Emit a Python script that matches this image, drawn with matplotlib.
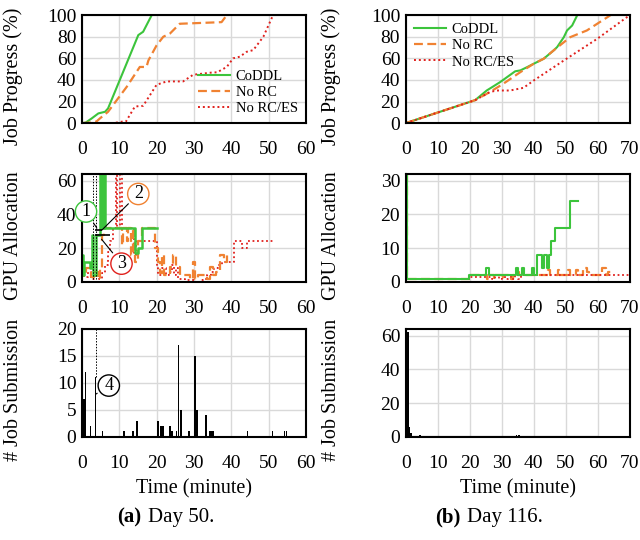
# =====================================================
# CoDDL job progress / GPU allocation / submissions
# =====================================================

import numpy as np
import matplotlib
matplotlib.use("Agg")
import matplotlib.pyplot as plt

plt.rcParams['font.family'] = ['Liberation Serif', 'DejaVu Serif']

# =====================================================
# DATA - DAY 50
# =====================================================

coddl_t_a = [0, 1.0, 2.6, 4.4, 6.2, 7.0, 15.1, 16.4, 18.7]
coddl_p_a = [0, 0.5, 4.3, 9, 10.5, 13.6, 81.5, 84.6, 100]

norc_t_a = [0, 2.0, 3.9, 4.8, 7.0, 12.0, 15.5, 17.3, 17.8, 20.0, 21.8, 23.6, 26.2, 37.4, 38.8]
norc_p_a = [0, 0.5, 1.5, 4.3, 10.5, 33.6, 52, 52, 58, 72, 80, 83, 92, 93.5, 100]

noes_t_a = [0, 8.4, 11.0, 11.8, 14.2, 16.4, 20.0, 22.7, 27.1, 29.8, 35.2, 36.2,
            38.8, 40.5, 42.3, 44.1, 45.9, 48.6, 51.2]
noes_p_a = [0, 0, 1.5, 1.5, 15.4, 16, 35.5, 38.6, 38.6, 44.8, 47, 47,
            52, 60, 61.5, 66, 67.6, 80, 100]

gpu_coddl_t_a = [0, 0.3, 0.6, 1.8, 2.2, 2.6, 3.0, 3.7, 4.8, 5.3, 5.9, 6.3,
                 14.2, 15.0, 16.0, 20.0]
gpu_coddl_a = [16, 4, 12, 12, 8, 28, 4, 28, 66, 32, 66, 32,
               17, 20, 32, 32]

gpu_norc_t_a = [0, 0.3, 1.0, 2.4, 3.2, 4.2, 4.8, 5.3, 6.0, 10.7, 11.1, 12.0, 12.4,
                13.2, 13.8, 14.3, 15.0, 16.0, 19.6, 20.5, 20.9, 21.5, 22.0, 23.5,
                24.4, 25.3, 26.3, 29.0, 29.8, 30.3, 31.0, 33.4, 34.3, 35.2, 36.0,
                37.0, 38.0, 38.8, 39.3]
gpu_norc_a = [8, 4, 8, 3, 6, 2, 8, 28, 32, 22, 32, 24, 32,
              16, 32, 12, 24, 32, 20, 12, 5, 16, 4, 9,
              16, 9, 4, 2, 12, 2, 4, 2, 9, 4, 6,
              16, 12, 16, 16]

gpu_noes_t_a = [0, 0.5, 1.5, 2.5, 3.5, 4.5, 5.5, 6.2, 7.0, 7.6, 8.2, 9.0, 9.4,
                10.3, 10.7, 14.0, 14.6, 20.0, 20.5, 21.5, 22.5, 23.2, 24.0, 24.6,
                25.2, 25.8, 27.5, 30.0, 31.5, 32.5, 33.5, 34.5, 35.5, 36.5, 37.5,
                40.0, 40.8, 42.8, 44.3, 51.7]
gpu_noes_a = [8, 3, 6, 2, 4, 2, 5, 10, 18, 24, 32, 66, 32,
              66, 32, 16, 24, 8, 4, 8, 4, 6, 10, 4,
              8, 2, 1, 0, 1, 2, 4, 6, 8, 10, 12,
              12, 24, 20, 24, 24]

sub_t_a = [0.2, 0.6, 1.0, 2.3, 3.7, 5.5, 11.3, 13.7, 14.8, 20.4, 21.0, 21.5, 21.9,
           23.6, 24.1, 25.4, 25.9, 26.5, 28.7, 30.3, 30.8, 33.2, 34.3, 34.8, 35.2,
           44.3, 51.0, 54.2, 54.8]
sub_n_a = [7, 7, 12, 2, 11, 1, 1, 1, 3, 3, 2, 2, 2,
           2, 1, 1, 17, 5, 1, 15, 5, 4, 1, 1, 1,
           1, 1, 1, 1]

# =====================================================
# DATA - DAY 116
# =====================================================

coddl_t_b = [0, 21.7, 25.3, 29.5, 34.2, 35.8, 37.9, 40, 43.1, 46.2, 47.3, 49.4, 50.4, 52, 53.6]
coddl_p_b = [0, 21.3, 30.2, 38, 48, 48.8, 51.8, 55, 59.6, 67.3, 70.4, 79.6, 85.8, 90.4, 100]

norc_t_b = [0, 21.7, 26.3, 30.5, 35.8, 40, 43.1, 46.2, 51.4, 56.6, 64]
norc_p_b = [0, 21.3, 28.8, 36.5, 47.2, 55, 59.6, 67.3, 79.6, 85.8, 100]

noes_t_b = [0, 21.7, 26.3, 28.4, 32.6, 36.8, 40, 49.4, 59.8, 70]
noes_p_b = [0, 21.3, 28.8, 30.2, 30.2, 32.7, 39.5, 58, 78, 100]

gpu_coddl_t_b = [0, 0.4, 19.8, 25.1, 26.0, 34.3, 35.0, 36.3, 37.0, 39.5, 40.2,
                 40.9, 42.6, 43.1, 44.2, 44.7, 45.4, 46.5, 51.3, 53.8]
gpu_coddl_b = [32, 1, 2, 4, 2, 4, 2, 4, 2, 4, 2,
               8, 4, 8, 4, 8, 12, 16, 24, 24]

gpu_norc_t_b = [0, 0.4, 20, 25.5, 26, 27.5, 28, 30, 30.5, 33, 33.5, 35, 35.5,
                44.5, 45, 47.5, 48, 50.7, 51.2, 53.3, 53.8, 55.5, 56.5, 57.2,
                61.3, 62.5, 63.2, 64]
gpu_norc_b = [32, 1, 2, 1, 2, 1, 2, 1, 2, 1, 2, 3, 2,
              3.5, 2, 3.5, 2, 3.5, 2, 3.5, 2, 4, 3, 2,
              4, 2, 3, 3]

gpu_noes_t_b = [0, 0.5, 20, 27, 28, 29, 30, 31, 32, 33, 34, 35, 36, 70]
gpu_noes_b = [32, 1, 1.5, 1, 2, 1, 2, 1, 2, 1, 2, 1, 2, 2]

sub_t_b = [0.2, 0.7, 1.2, 1.6, 4.4, 14.4, 24.3, 31.7, 34.6, 35.4, 36.8, 44.1, 54.5]
sub_n_b = [3, 62, 6, 2, 1, 0.5, 0.5, 0.5, 1, 1, 0.5, 0.5, 0.5]

# =====================================================
# STYLE
# =====================================================

GREEN = "#3CC43C"
ORANGE = "#F08232"
RED = "#E0201C"
GRID = "#D9D9D9"
FS = 14
LFS = 14.5

fig = plt.figure(figsize=(6.4, 5.4), dpi=100)

left_x, right_x = 0.128, 0.634
w = 0.35
rows = [0.772, 0.478, 0.191]
h = 0.2


def style_axis(ax, xmax, ymax, yticks):
    ax.set_xlim(0, xmax)
    ax.set_ylim(0, ymax)
    ax.set_xticks(np.arange(0, xmax + 1, 10))
    ax.set_yticks(yticks)
    ax.grid(True, color=GRID, linewidth=1)
    ax.set_axisbelow(True)
    ax.tick_params(length=0, labelsize=FS)
    ax.tick_params(axis='x', pad=13)
    ax.tick_params(axis='y', pad=4)
    for s in ax.spines.values():
        s.set_linewidth(1.5)
        s.set_color("black")


def progress(ax, data, xmax, loc):
    ct, cp, nt, np_, et, ep = data
    ax.plot(ct, cp, color=GREEN, lw=1.5, label="CoDDL")
    ax.plot(nt, np_, color=ORANGE, lw=1.6, ls=(0, (4, 2)), label="No RC")
    ax.plot(et, ep, color=RED, lw=1.4, ls=(0, (1, 1.5)), label="No RC/ES")
    style_axis(ax, xmax, 100, [0, 20, 40, 60, 80, 100])
    ax.set_ylabel("Job Progress (%)", fontsize=LFS)
    ax.legend(loc=loc, frameon=False, fontsize=10.5, handlelength=2.2,
              borderaxespad=0.15, labelspacing=0.2, handletextpad=0.4)


# =====================================================
# JOB PROGRESS
# =====================================================

ax1 = fig.add_axes([left_x, rows[0], w, h])
progress(ax1, [coddl_t_a, coddl_p_a, norc_t_a, norc_p_a, noes_t_a, noes_p_a], 60,
         "lower right")

ax2 = fig.add_axes([right_x, rows[0], w, h])
progress(ax2, [coddl_t_b, coddl_p_b, norc_t_b, norc_p_b, noes_t_b, noes_p_b], 70,
         "upper left")

# =====================================================
# GPU ALLOCATION
# =====================================================

ax3 = fig.add_axes([left_x, rows[1], w, h])
ax3.step(gpu_noes_t_a, gpu_noes_a, where='post', color=RED, lw=1.3, ls=(0, (1, 1.5)))
ax3.step(gpu_norc_t_a, gpu_norc_a, where='post', color=ORANGE, lw=1.6, ls=(0, (4, 2)))
ax3.step(gpu_coddl_t_a, gpu_coddl_a, where='post', color=GREEN, lw=1.8)
style_axis(ax3, 60, 64, [0, 20, 40, 60])
ax3.set_ylabel("GPU Allocation", fontsize=LFS)

ax3.axvline(3.0, color="black", lw=0.7, ls=(0, (1.5, 1.5)))
ax3.axvline(3.8, color="black", lw=0.7, ls=(0, (1.5, 1.5)))
ax3.hlines([30.5, 27.5], [3.5, 3.5], [5.3, 7.5], color="black", lw=1.2)

circ = dict(boxstyle="circle,pad=0.12", fc="white", lw=1)
ax3.annotate("1", xy=(4.4, 30.5), xytext=(1.1, 41.7), fontsize=13,
             ha="center", va="center",
             bbox=dict(circ, ec=GREEN),
             arrowprops=dict(arrowstyle="-", color="black", lw=0.8))
ax3.annotate("2", xy=(4.8, 29.5), xytext=(15.1, 52.1), fontsize=13,
             ha="center", va="center",
             bbox=dict(circ, ec=ORANGE),
             arrowprops=dict(arrowstyle="-", color="black", lw=0.8))
ax3.annotate("3", xy=(4.8, 26.5), xytext=(10.6, 10.8), fontsize=13,
             ha="center", va="center",
             bbox=dict(circ, ec=RED),
             arrowprops=dict(arrowstyle="-", color="black", lw=0.8))

ax4 = fig.add_axes([right_x, rows[1], w, h])
ax4.step(gpu_norc_t_b, gpu_norc_b, where='post', color=ORANGE, lw=1.6, ls=(0, (4, 2)))
ax4.step(gpu_noes_t_b, gpu_noes_b, where='post', color=RED, lw=1.3, ls=(0, (1, 1.5)))
ax4.step(gpu_coddl_t_b, gpu_coddl_b, where='post', color=GREEN, lw=1.5)
style_axis(ax4, 70, 32, [0, 10, 20, 30])
ax4.set_ylabel("GPU Allocation", fontsize=LFS)

# =====================================================
# JOB SUBMISSION
# =====================================================

ax5 = fig.add_axes([left_x, rows[2], w, h])
ax5.bar(sub_t_a, sub_n_a, width=0.4, color="black")
style_axis(ax5, 60, 20, [0, 5, 10, 15, 20])
ax5.set_ylabel("# Job Submission", fontsize=LFS)
ax5.set_xlabel("Time (minute)", fontsize=LFS, labelpad=5)
ax5.vlines(3.7, 11, 20, color="black", lw=0.7, linestyles=(0, (1.5, 1.5)))
ax5.annotate("4", xy=(3.7, 7.9), xytext=(7.2, 9.5), fontsize=13,
             ha="center", va="center",
             bbox=dict(circ, ec="black"),
             arrowprops=dict(arrowstyle="-", color="black", lw=0.8))

ax6 = fig.add_axes([right_x, rows[2], w, h])
ax6.bar(sub_t_b, sub_n_b, width=0.5, color="black")
ax6.hlines(0, 0, 60, color="black", lw=1.5)
style_axis(ax6, 70, 64, [0, 20, 40, 60])
ax6.set_ylabel("# Job Submission", fontsize=LFS)
ax6.set_xlabel("Time (minute)", fontsize=LFS, labelpad=5)

for ax in [ax1, ax3, ax5]:
    ax.yaxis.set_label_coords(-0.265, 0.43)
for ax in [ax2, ax4, ax6]:
    ax.yaxis.set_label_coords(-0.29, 0.43)

# =====================================================
# CAPTIONS
# =====================================================

fig.text(117 / 640, 0.041, "(a)", fontsize=15, fontweight="bold", va="center")
fig.text(148 / 640, 0.041, "Day 50.", fontsize=15, va="center")
fig.text(435 / 640, 0.041, "(b)", fontsize=15, fontweight="bold", va="center")
fig.text(467 / 640, 0.041, "Day 116.", fontsize=15, va="center")

fig.savefig("out.png", dpi=100)
